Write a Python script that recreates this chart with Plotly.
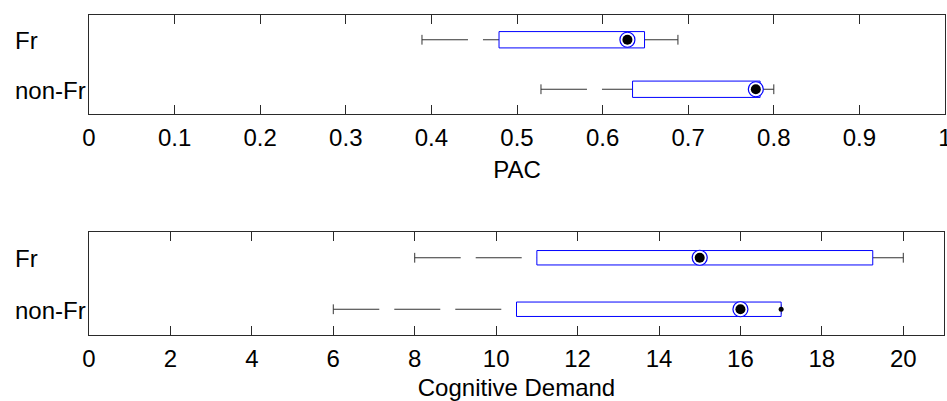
import plotly.graph_objects as go

# ---------------- data ----------------
groups = ["Fr", "non-Fr"]
group_pos = [2, 1]

pac_lower = [0.389, 0.528]
pac_q1 = [0.479, 0.635]
pac_median = [0.629, 0.779]
pac_q3 = [0.649, 0.784]
pac_upper = [0.688, 0.800]
pac_outliers = [[], []]
pac_ticks = [0, 0.1, 0.2, 0.3, 0.4, 0.5, 0.6, 0.7, 0.8, 0.9, 1]

cog_lower = [8, 6]
cog_q1 = [11, 10.5]
cog_median = [15, 16]
cog_q3 = [19.25, 17]
cog_upper = [20, 17]
cog_outliers = [[], [17]]
cog_ticks = [0, 2, 4, 6, 8, 10, 12, 14, 16, 18, 20]

# ---------------- style ----------------
FONT = "Liberation Sans, Arial, sans-serif"
FS = 24
BLUE = "#0000FF"
WHISK = "#333333"
AX = "#2a2a2a"

fig = go.Figure()


def add_panel(xa, ya, lower, q1, med, q3, upper, outl, halfh):
    for i, pos in enumerate(group_pos):
        # whiskers (dashed, black)
        for xs in ([lower[i], q1[i]], [q3[i], upper[i]]):
            fig.add_trace(go.Scatter(x=xs, y=[pos, pos], mode="lines", xaxis=xa, yaxis=ya,
                                     line=dict(color=WHISK, width=1, dash="46px,15px"),
                                     hoverinfo="skip", showlegend=False))
        # caps
        fig.add_trace(go.Scatter(x=[lower[i], upper[i]], y=[pos, pos], mode="markers",
                                 xaxis=xa, yaxis=ya,
                                 marker=dict(symbol="line-ns", size=7,
                                             line=dict(color=WHISK, width=1)),
                                 hoverinfo="skip", showlegend=False))
        # box
        fig.add_trace(go.Scatter(x=[q1[i], q3[i], q3[i], q1[i], q1[i]],
                                 y=[pos - halfh, pos - halfh, pos + halfh, pos + halfh, pos - halfh],
                                 mode="lines", fill="toself", fillcolor="white",
                                 xaxis=xa, yaxis=ya,
                                 line=dict(color=BLUE, width=1),
                                 hoverinfo="skip", showlegend=False))
        # median target
        fig.add_trace(go.Scatter(x=[med[i]], y=[pos], mode="markers", xaxis=xa, yaxis=ya,
                                 marker=dict(symbol="circle", size=15, color="white",
                                             line=dict(color=BLUE, width=1.2)),
                                 hoverinfo="skip", showlegend=False))
        fig.add_trace(go.Scatter(x=[med[i]], y=[pos], mode="markers", xaxis=xa, yaxis=ya,
                                 marker=dict(symbol="circle", size=10, color="black"),
                                 hoverinfo="skip", showlegend=False))
        if outl[i]:
            fig.add_trace(go.Scatter(x=outl[i], y=[pos] * len(outl[i]), mode="markers",
                                     xaxis=xa, yaxis=ya,
                                     marker=dict(symbol="circle", size=5, color="black"),
                                     hoverinfo="skip", showlegend=False))


add_panel("x", "y", pac_lower, pac_q1, pac_median, pac_q3, pac_upper, pac_outliers, 0.165)
add_panel("x2", "y2", cog_lower, cog_q1, cog_median, cog_q3, cog_upper, cog_outliers, 0.14)

W, H = 947, 401
ML, MR, MT, MB = 89, 2, 15, 66
PW = W - ML - MR
PH = H - MT - MB


def ydom(top_px, bot_px):
    return [(H - MB - bot_px) / PH, (H - MB - top_px) / PH]


xcommon = dict(showline=True, linecolor=AX, linewidth=1, mirror="ticks",
               ticks="inside", ticklen=9, tickcolor=AX, tickwidth=1,
               showgrid=False, zeroline=False, automargin=False,
               tickfont=dict(family=FONT, size=FS, color="black"),
               ticklabelstandoff=2, ticklabeloverflow="allow")
ycommon = dict(showline=True, linecolor=AX, linewidth=1, mirror=True, automargin=False,
               ticks="", showticklabels=False, showgrid=False, zeroline=False,
               range=[0.5, 2.5])

fig.update_layout(
    width=W, height=H,
    margin=dict(l=ML, r=MR, t=MT, b=MB, pad=0, autoexpand=False),
    paper_bgcolor="white", plot_bgcolor="white",
    showlegend=False,
    xaxis=dict(xcommon, domain=[0, 1], anchor="y", range=[0, 1], tickvals=pac_ticks,
               title=dict(text="PAC", font=dict(family=FONT, size=FS, color="black"), standoff=11)),
    yaxis=dict(ycommon, domain=ydom(15, 114), anchor="x"),
    xaxis2=dict(xcommon, domain=[0, 1 - 1 / PW], anchor="y2", range=[0, 21], tickvals=cog_ticks,
                title=dict(text="Cognitive Demand", font=dict(family=FONT, size=FS, color="black"),
                           standoff=9)),
    yaxis2=dict(ycommon, domain=ydom(232, 335), anchor="x2"),
)

# y category labels (left aligned, as in the reference)
for ya in ("y", "y2"):
    for g, pos in zip(groups, group_pos):
        fig.add_annotation(x=(13 - ML) / PW, xref="paper", xanchor="left",
                           y=pos, yref=ya, yanchor="middle", yshift=-1,
                           text=g, showarrow=False,
                           font=dict(family=FONT, size=FS, color="black"))

fig.write_html("out.html",
               config={"displayModeBar": False},
               post_script=("document.documentElement.style.overflow='hidden';"
                            "document.body.style.overflow='hidden';"
                            "document.body.style.margin='0';document.body.style.padding='0';"))
